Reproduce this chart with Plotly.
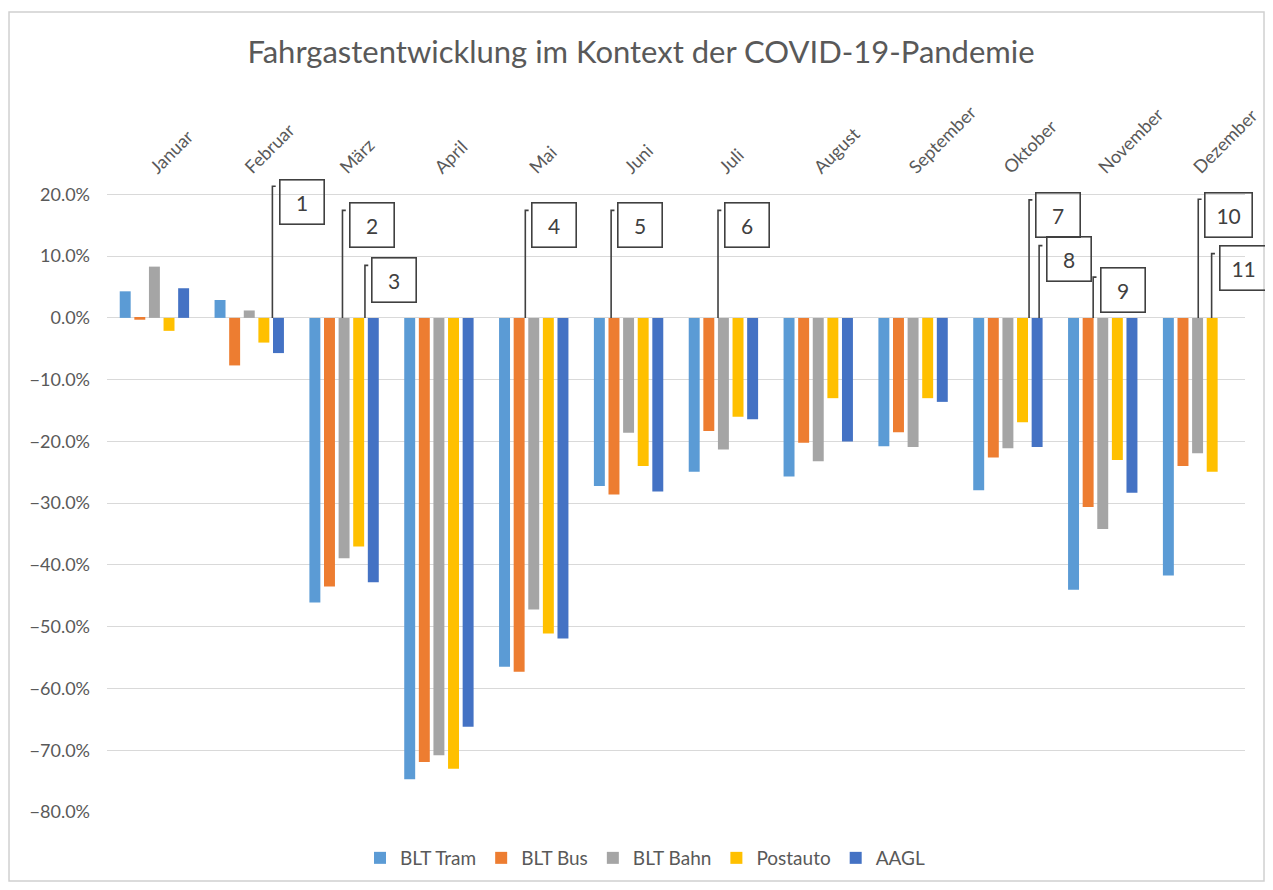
import plotly.graph_objects as go

months = ["Januar", "Februar", "März", "April", "Mai", "Juni", "Juli",
          "August", "September", "Oktober", "November", "Dezember"]

blt_tram = [4.3, 2.9, -46.1, -74.7, -56.5, -27.2, -24.9, -25.7, -20.8, -27.9, -44.0, -41.7]
blt_bus = [-0.3, -7.7, -43.5, -71.9, -57.3, -28.6, -18.3, -20.2, -18.5, -22.6, -30.6, -24.0]
blt_bahn = [8.3, 1.2, -38.9, -70.8, -47.2, -18.6, -21.3, -23.2, -20.9, -21.1, -34.2, -21.9]
postauto = [-2.1, -4.0, -37.0, -73.0, -51.1, -24.0, -16.0, -13.0, -13.0, -16.9, -23.0, -24.9]
aagl = [4.8, -5.7, -42.8, -66.2, -51.9, -28.1, -16.4, -20.0, -13.6, -20.9, -28.3, None]

series_names = ["BLT Tram", "BLT Bus", "BLT Bahn", "Postauto", "AAGL"]
series_values = [blt_tram, blt_bus, blt_bahn, postauto, aagl]
series_colors = ["#5B9BD5", "#ED7D31", "#A5A5A5", "#FFC000", "#4472C4"]

# callout: label, line x (category units), line top (%), box centre x, box centre y
callout_labels = ["1", "2", "3", "4", "5", "6", "7", "8", "9", "10", "11"]
callout_line_x = [1.244, 1.983, 2.220, 3.911, 4.816, 5.943, 9.223, 9.329, 9.899, 11.007, 11.148]
callout_line_top = [21.3, 17.4, 8.5, 17.4, 17.4, 17.4, 19.1, 11.7, 6.6, 19.2, 10.4]
callout_box_x = [1.558, 2.299, 2.526, 4.215, 5.117, 6.249, 9.530, 9.642, 10.209, 11.331, 11.486]
callout_box_y = [18.8, 15.06, 6.15, 15.0, 15.0, 15.0, 16.7, 9.5, 4.45, 16.7, 8.0]

FONT = "Lato"
GREY = "#595959"

fig = go.Figure()
for name, vals, col in zip(series_names, series_values, series_colors):
    fig.add_trace(go.Bar(
        name=name, x=list(range(len(months))), y=vals,
        marker=dict(color=col, line=dict(width=0)),
    ))

shapes = []
annotations = []
for lab, lx, lt, bx, by in zip(callout_labels, callout_line_x, callout_line_top,
                               callout_box_x, callout_box_y):
    shapes.append(dict(
        type="path", xref="x", yref="y",
        path=f"M {lx} 0 L {lx} {lt} L {lx + 0.035} {lt}",
        line=dict(color="#404040", width=1.6),
    ))
    annotations.append(dict(
        x=bx, y=by, xref="x", yref="y", text=lab, showarrow=False,
        font=dict(family=FONT, size=21, color="#404040"),
        width=43 if len(lab) == 1 else 46, height=43,
        bordercolor="#404040", borderwidth=1.6, borderpad=0,
        bgcolor="rgba(255,255,255,0)", xanchor="center", yanchor="middle",
    ))

# chart border
shapes.append(dict(
    type="rect", xref="paper", yref="paper",
    x0=-0.0861, x1=1.0167, y0=-0.1095, y1=1.2698,
    line=dict(color="#D0D0D0", width=1.5), layer="below",
))

W, H = 1257, 874
fig.update_layout(
    width=W, height=H,
    margin=dict(l=99, r=20, t=174, b=70, autoexpand=False),
    paper_bgcolor="white", plot_bgcolor="white",
    title=dict(text="Fahrgastentwicklung im Kontext der COVID-19-Pandemie",
               x=633 / W, xref="container", xanchor="center",
               y=1 - 44 / H, yref="container", yanchor="middle",
               font=dict(family=FONT, size=31, color=GREY)),
    barmode="group", bargap=0.23, bargroupgap=0.25,
    font=dict(family=FONT, color=GREY),
    xaxis=dict(
        side="top", tickmode="array", tickvals=list(range(len(months))), ticktext=months,
        range=[-0.5, 11.5], tickangle=-45, showgrid=False, showline=False, ticks="",
        zeroline=False, ticklabeloverflow="allow", ticklabelshift=-3,
        tickfont=dict(family=FONT, size=18, color=GREY),
    ),
    yaxis=dict(
        range=[-80, 22], dtick=10, tick0=0, tickformat=".1f", ticksuffix="%",
        showgrid=True, gridcolor="#D9D9D9", gridwidth=1.3,
        zeroline=True, zerolinecolor="#D9D9D9", zerolinewidth=1.3,
        showline=False, ticks="", ticklabelstandoff=16,
        tickfont=dict(family=FONT, size=18, color=GREY),
    ),
    legend=dict(orientation="h", xref="container", yref="container",
                x=637 / W, xanchor="center", y=24 / H, yanchor="middle",
                font=dict(family=FONT, size=19, color=GREY), itemwidth=30,
                traceorder="normal"),
    shapes=shapes, annotations=annotations,
)

fig.write_html("out.html")
